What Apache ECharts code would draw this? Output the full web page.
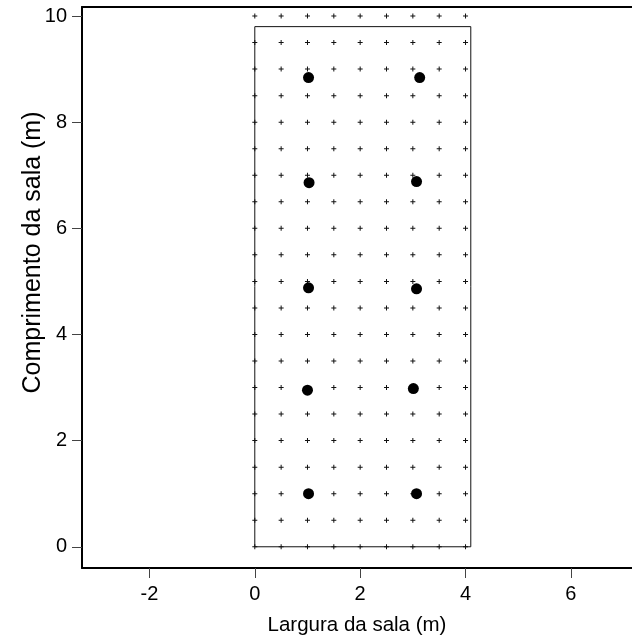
<!DOCTYPE html>
<html>
<head>
<meta charset="utf-8">
<script src="https://cdn.jsdelivr.net/npm/echarts@6/dist/echarts.min.js"></script>
<style>
  html, body { margin: 0; padding: 0; background: #fff; }
  #chart { width: 632px; height: 643px; }
</style>
</head>
<body>
<div id="chart"></div>
<script>
  // room outline (m)
  const roomWidth = 4.1;
  const roomLength = 9.8;

  // measurement grid (every 0.5 m)
  const gridX = [0, 0.5, 1, 1.5, 2, 2.5, 3, 3.5, 4];
  const gridY = [0, 0.5, 1, 1.5, 2, 2.5, 3, 3.5, 4, 4.5, 5, 5.5, 6, 6.5, 7, 7.5, 8, 8.5, 9, 9.5, 10];

  // luminaire positions
  const lampX = [1.02, 3.07, 1.0, 3.01, 1.02, 3.07, 1.03, 3.07, 1.02, 3.13];
  const lampY = [1.0, 1.0, 2.95, 2.98, 4.88, 4.86, 6.86, 6.88, 8.84, 8.84];

  const xTicks = [-2, 0, 2, 4, 6];
  const yTicks = [0, 2, 4, 6, 8, 10];

  const gridPoints = [];
  gridY.forEach((y) => gridX.forEach((x) => gridPoints.push([x, y])));
  const lamps = lampX.map((x, i) => [x, lampY[i]]);
  const outline = [[0, 0], [roomWidth, 0], [roomWidth, roomLength], [0, roomLength], [0, 0]];

  const font = "Liberation Sans, Arial, sans-serif";

  const chart = echarts.init(document.getElementById("chart"), null, { renderer: "canvas" });
  chart.setOption({
    animation: false,
    grid: { left: 82, right: 0, top: 7, bottom: 75, containLabel: false },
    xAxis: [
      {
        type: "value",
        min: -3.28,
        max: 7.16,
        name: "Largura da sala (m)",
        nameLocation: "middle",
        nameGap: 47,
        nameMoveOverlap: false,
        nameTextStyle: { fontFamily: font, fontSize: 20.5, color: "#000" },
        axisLine: { show: true, onZero: false, lineStyle: { color: "#000", width: 2 } },
        axisTick: { show: true, length: 10, customValues: xTicks, lineStyle: { color: "#444", width: 1 } },
        axisLabel: { customValues: xTicks, margin: 16, fontFamily: font, fontSize: 20, color: "#000" },
        splitLine: { show: false },
      },
      {
        type: "value",
        position: "top",
        min: -3.28,
        max: 7.16,
        axisLine: { show: true, onZero: false, lineStyle: { color: "#000", width: 2 } },
        axisTick: { show: false },
        axisLabel: { show: false },
        splitLine: { show: false },
      },
    ],
    yAxis: {
      type: "value",
      min: -0.4,
      max: 10.17,
      name: "Comprimento da sala (m)",
      nameLocation: "middle",
      nameGap: 36,
      nameMoveOverlap: false,
      nameTextStyle: { fontFamily: font, fontSize: 25, color: "#000", padding: [0, 0, 0, 70] },
      axisLine: { show: true, onZero: false, lineStyle: { color: "#000", width: 2 } },
      axisTick: { show: true, length: 10, customValues: yTicks, lineStyle: { color: "#444", width: 1 } },
      axisLabel: { customValues: yTicks, margin: 15, fontFamily: font, fontSize: 20, color: "#000" },
      splitLine: { show: false },
    },
    series: [
      {
        type: "line",
        data: outline,
        symbol: "none",
        lineStyle: { color: "#111", width: 1 },
        z: 1,
      },
      {
        type: "scatter",
        data: gridPoints,
        symbol: "path://M2,0H3V2H5V3H3V5H2V3H0V2H2Z",
        symbolSize: 5,
        itemStyle: { color: "#111", opacity: 1 },
        z: 2,
      },
      {
        type: "scatter",
        data: lamps,
        symbol: "circle",
        symbolSize: 11,
        itemStyle: { color: "#000", opacity: 1 },
        z: 3,
      },
    ],
  });
</script>
</body>
</html>
